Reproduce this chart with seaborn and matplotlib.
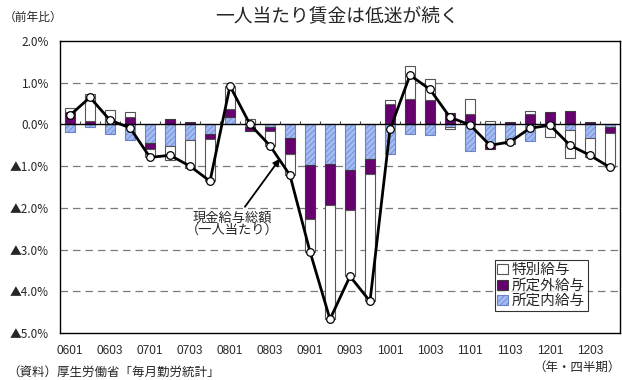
import numpy as np
import pandas as pd
import matplotlib
matplotlib.use("Agg")
import matplotlib.pyplot as plt
import seaborn as sns

# Quarterly labels (year + quarter), 2006Q1 .. 2012Q4
quarters = [f"{y:02d}0{q}" for y in range(6, 13) for q in range(1, 5)]

# Year-on-year contributions (%)
base_pay = [-0.18, -0.07, -0.24, -0.38, -0.44, -0.51, -0.38, -0.24,
            0.17, -0.07, -0.07, -0.32, -0.98, -0.94, -1.10, -0.84,
            -0.72, -0.24, -0.26, -0.06, -0.64, -0.46, -0.35, -0.40,
            -0.01, -0.14, -0.32, -0.07]
overtime_pay = [0.30, 0.08, 0.02, 0.17, -0.14, 0.12, 0.05, -0.10,
                0.20, -0.08, -0.09, -0.38, -1.29, -1.00, -0.94, -0.34,
                0.50, 0.62, 0.58, 0.28, 0.24, -0.12, 0.05, 0.24,
                0.29, 0.32, 0.05, -0.14]
special_pay = [0.10, 0.64, 0.32, 0.13, -0.21, -0.34, -0.67, -1.02,
               0.54, 0.14, -0.35, -0.52, -0.78, -2.73, -1.60, -3.06,
               0.08, 0.78, 0.50, -0.05, 0.38, 0.08, -0.13, 0.08,
               -0.30, -0.66, -0.47, -0.82]
total_pay = [0.22, 0.65, 0.10, -0.08, -0.79, -0.74, -1.00, -1.36,
             0.92, 0.00, -0.51, -1.22, -3.05, -4.67, -3.64, -4.24,
             -0.12, 1.18, 0.84, 0.17, -0.01, -0.50, -0.42, -0.09,
             -0.02, -0.50, -0.74, -1.03]

y_ticks = [2, 1, 0, -1, -2, -3, -4, -5]
y_tick_labels = ["2.0%", "1.0%", "0.0%", "▲1.0%", "▲2.0%", "▲3.0%", "▲4.0%", "▲5.0%"]

sns.set_theme(style="white")
plt.rcParams["font.family"] = ["Liberation Sans", "Noto Sans CJK JP", "DejaVu Sans"]
plt.rcParams["hatch.linewidth"] = 0.5

fig = plt.figure(figsize=(6.22, 3.80), dpi=100)
ax = fig.add_axes([60 / 622, 1 - 333 / 380, 560 / 622, 292 / 380])

x = np.arange(len(quarters))
series = [
    ("所定内給与", base_pay, dict(facecolor="#a3bbf4", edgecolor="#6a82c8", hatch="//////")),
    ("所定外給与", overtime_pay, dict(facecolor="#66006e", edgecolor="#3a3a3a")),
    ("特別給与", special_pay, dict(facecolor="white", edgecolor="#555555")),
]

pos_cum = np.zeros(len(x))
neg_cum = np.zeros(len(x))
handles = {}
for name, vals, style in series:
    v = np.asarray(vals, dtype=float)
    bottom = np.where(v >= 0, pos_cum, neg_cum)
    bars = ax.bar(x, v, width=0.52, bottom=bottom, linewidth=0.8, label=name,
                  zorder=3, **style)
    handles[name] = bars
    pos_cum = pos_cum + np.where(v >= 0, v, 0)
    neg_cum = neg_cum + np.where(v < 0, v, 0)

df_total = pd.DataFrame({"pos": x, "total": total_pay})
sns.lineplot(data=df_total, x="pos", y="total", ax=ax, color="black", linewidth=2.0,
             marker="o", markersize=5.5, markerfacecolor="white",
             markeredgecolor="black", markeredgewidth=0.9, zorder=5)

# grid and zero line
for yv in [1, -1, -2, -3, -4]:
    ax.axhline(yv, color="#7a7a7a", linestyle=(0, (6, 4)), linewidth=0.9, zorder=1)
ax.axhline(0, color="black", linewidth=1.0, zorder=4)
ax.vlines(x[:-1] + 0.5, 0, 0.09, color="#444444", linewidth=0.8, zorder=4)

ax.set_xlim(-0.5, len(quarters) - 0.5)
ax.set_ylim(-5, 2)
ax.set_yticks(y_ticks)
ax.set_yticklabels(y_tick_labels, fontsize=8.5, family=["Noto Sans CJK JP"])
ax.set_xticks(x[::2])
ax.set_xticklabels(quarters[::2], fontsize=8.5)
ax.tick_params(axis="both", length=0)
ax.tick_params(axis="y", pad=8)
ax.tick_params(axis="x", pad=9)
ax.set_xlabel("")
ax.set_ylabel("")
for sp in ax.spines.values():
    sp.set_visible(True)
    sp.set_color("black")
    sp.set_linewidth(1.0)

ax.annotate("現金給与総額\n（一人当たり）", xy=(10.5, -0.82), xytext=(8.1, -2.4),
            ha="center", va="center", fontsize=9.5, linespacing=0.95,
            arrowprops=dict(arrowstyle="-|>", color="black", lw=1.3,
                            mutation_scale=10, shrinkA=2, shrinkB=0),
            zorder=6)

leg = ax.legend([handles["特別給与"], handles["所定外給与"], handles["所定内給与"]],
                ["特別給与", "所定外給与", "所定内給与"],
                loc="lower left", bbox_to_anchor=(0.776, 0.075), fontsize=10.5,
                frameon=True, fancybox=False, handlelength=0.7, handleheight=0.7,
                handletextpad=0.3, borderpad=0.2, labelspacing=0.1,
                borderaxespad=0)
leg.get_frame().set_edgecolor("black")
leg.get_frame().set_linewidth(0.8)
leg.set_zorder(7)

fig.text(0.542, 0.955, "一人当たり賃金は低迷が続く", ha="center", va="center",
         fontsize=13.5)
fig.text(0.006, 0.953, "（前年比）", ha="left", va="center", fontsize=8.5)
fig.text(0.998, 0.032, "（年・四半期）", ha="right", va="center", fontsize=9)
fig.text(0.012, 0.018, "（資料）厚生労働省「毎月勤労統計」", ha="left", va="center",
         fontsize=9)

fig.savefig("out.png", dpi=100)
